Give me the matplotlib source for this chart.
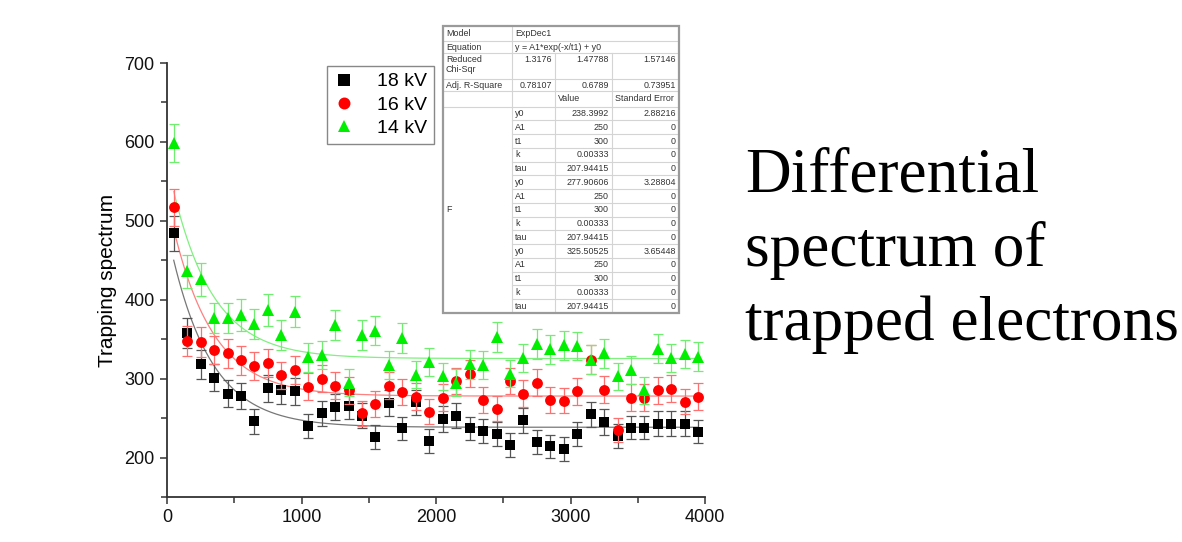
import numpy as np
import matplotlib.pyplot as plt
from matplotlib.ticker import MultipleLocator

plt.rcParams['font.family'] = ['Liberation Sans', 'DejaVu Sans']

# ---- measured trapping spectra (counts per 100-unit bin) ----
bins = [50, 150, 250, 350, 450, 550, 650, 750, 850, 950,
        1050, 1150, 1250, 1350, 1450, 1550, 1650, 1750, 1850, 1950,
        2050, 2150, 2250, 2350, 2450, 2550, 2650, 2750, 2850, 2950,
        3050, 3150, 3250, 3350, 3450, 3550, 3650, 3750, 3850, 3950]

kv18 = [484, 358, 318, 301, 281, 278, 246, 288, 285, 284,
        240, 256, 264, 265, 253, 226, 269, 237, 270, 221,
        249, 253, 237, 234, 230, 216, 247, 220, 214, 211,
        230, 255, 245, 227, 238, 238, 243, 243, 243, 233]
kv16 = [517, 348, 347, 336, 332, 323, 316, 320, 304, 311,
        290, 300, 291, 285, 256, 268, 291, 283, 277, 258,
        276, 297, 306, 273, 262, 297, 281, 295, 273, 272,
        284, 324, 286, 235, 276, 276, 285, 287, 271, 277]
kv14 = [599, 436, 426, 377, 377, 381, 369, 387, 355, 385,
        327, 330, 368, 295, 355, 361, 317, 351, 305, 321,
        303, 295, 318, 317, 353, 306, 326, 344, 337, 342,
        341, 324, 332, 303, 311, 285, 338, 326, 331, 328]

err18 = [22, 19, 18, 17, 17, 17, 16, 17, 17, 17,
         15, 16, 16, 16, 16, 15, 16, 15, 16, 15,
         16, 16, 15, 15, 15, 15, 16, 15, 15, 15,
         15, 16, 16, 15, 15, 15, 16, 16, 16, 15]
err16 = [23, 19, 19, 18, 18, 18, 18, 18, 17, 18,
         17, 17, 17, 17, 16, 16, 17, 17, 17, 16,
         17, 17, 17, 17, 16, 17, 17, 17, 17, 16,
         17, 18, 17, 15, 17, 17, 17, 17, 16, 17]
err14 = [24, 21, 21, 19, 19, 20, 19, 20, 19, 20,
         18, 18, 19, 17, 19, 19, 18, 19, 17, 18,
         17, 17, 18, 18, 19, 17, 18, 19, 18, 18,
         18, 18, 18, 17, 18, 17, 18, 18, 18, 18]

labels = ['18 kV', '16 kV', '14 kV']
colors = ['#000000', '#ff0000', '#00ee00']
err_colors = ['#555555', '#ff7070', '#70ee70']
fit_colors = ['#777777', '#ff8080', '#80f080']
markers = ['s', 'o', '^']
msizes = [7.2, 7.8, 8.4]

# ExpDec1 fit parameters: y = A1*exp(-x/t1) + y0
fit_y0 = [238.3992, 277.90606, 325.50525]
fit_A1 = [250, 250, 250]
fit_t1 = [300, 300, 300]

# ---- figure ----
W, H = 1182, 542
fig = plt.figure(figsize=(W / 100, H / 100), dpi=100)


def fx(px):
    return px / W


def fy(py):
    return (H - py) / H


ax = fig.add_axes([fx(167), fy(497), fx(705) - fx(167), fy(63) - fy(497)])

series = [kv18, kv16, kv14]
errs = [err18, err16, err14]
x = np.array(bins, dtype=float)
xfit = np.linspace(bins[0], bins[-1], 400)

for i in range(3):
    yfit = fit_A1[i] * np.exp(-xfit / fit_t1[i]) + fit_y0[i]
    ax.plot(xfit, yfit, color=fit_colors[i], lw=0.9, zorder=2)

handles = []
for i in range(3):
    ax.errorbar(x, series[i], yerr=errs[i], fmt='none', ecolor=err_colors[i],
                elinewidth=0.9, capsize=3.5, capthick=0.9, zorder=3 + i)
    h, = ax.plot(x, series[i], linestyle='none', marker=markers[i],
                 markersize=msizes[i], color=colors[i], markeredgewidth=0,
                 zorder=3.5 + i)
    handles.append(h)

ax.set_xlim(0, 4000)
ax.set_ylim(150, 700)
ax.xaxis.set_major_locator(MultipleLocator(1000))
ax.xaxis.set_minor_locator(MultipleLocator(500))
ax.yaxis.set_minor_locator(MultipleLocator(50))
ax.set_yticks([200, 300, 400, 500, 600, 700])

for s in ['top', 'right']:
    ax.spines[s].set_visible(False)
for s in ['left', 'bottom']:
    ax.spines[s].set_linewidth(1.3)
    ax.spines[s].set_color('#333333')
ax.tick_params(which='both', direction='out', width=1.1, color='#333333')
ax.tick_params(which='major', length=5, labelsize=13, labelcolor='#111111', pad=4)
ax.tick_params(which='minor', length=4)
ax.set_ylabel('Trapping spectrum', fontsize=15, labelpad=5)

leg = fig.legend(handles, labels, loc='upper left',
                 bbox_to_anchor=(fx(327), fy(66)), borderaxespad=0,
                 fontsize=14, frameon=True, fancybox=False, edgecolor='#888888',
                 framealpha=1, handlelength=1.0, handletextpad=1.2,
                 labelspacing=0.3, borderpad=0.35, markerscale=1.1)
leg.get_frame().set_linewidth(1.0)

# ---- fit report table ----
tab_cols = [443, 512, 555, 612, 679]
tab_top, tab_bottom = 26, 313
head_rows = [26, 40.7, 53.3, 79.3, 90.7, 106.7]
n_par = 15
par_h = (tab_bottom - head_rows[-1]) / n_par

model_name = 'ExpDec1'
equation = 'y = A1*exp(-x/t1) + y0'
chi_sqr = ['1.3176', '1.47788', '1.57146']
adj_r2 = ['0.78107', '0.6789', '0.73951']
par_names = ['y0', 'A1', 't1', 'k', 'tau'] * 3
par_values = ['238.3992', '250', '300', '0.00333', '207.94415',
              '277.90606', '250', '300', '0.00333', '207.94415',
              '325.50525', '250', '300', '0.00333', '207.94415']
par_errors = ['2.88216', '0', '0', '0', '0',
              '3.28804', '0', '0', '0', '0',
              '3.65448', '0', '0', '0', '0']

tax = fig.add_axes([0, 0, 1, 1], zorder=10)
tax.set_xlim(0, W)
tax.set_ylim(H, 0)
tax.axis('off')
tax.patch.set_alpha(0)

tax.add_patch(plt.Rectangle((tab_cols[0], tab_top), tab_cols[-1] - tab_cols[0],
                            tab_bottom - tab_top, facecolor='white',
                            edgecolor='none', zorder=1))
grid_kw = dict(color='#d4d4d4', lw=0.8, zorder=2)


def hline(x0, x1, y):
    tax.plot([x0, x1], [y, y], **grid_kw)


def vline(x, y0, y1):
    tax.plot([x, x], [y0, y1], **grid_kw)


for y in head_rows[1:]:
    hline(tab_cols[0], tab_cols[-1], y)
for k in range(1, n_par):
    hline(tab_cols[1], tab_cols[-1], head_rows[-1] + k * par_h)
vline(tab_cols[1], tab_top, tab_bottom)
vline(tab_cols[2], head_rows[2], tab_bottom)
vline(tab_cols[3], head_rows[2], tab_bottom)
tax.add_patch(plt.Rectangle((tab_cols[0], tab_top), tab_cols[-1] - tab_cols[0],
                            tab_bottom - tab_top, facecolor='none',
                            edgecolor='#9a9a9a', lw=1.6, zorder=3))

tfs = 6.4
tcol = '#333333'
pad = 3


def cell_text(col, yc, s, align='left'):
    if align == 'left':
        tax.text(tab_cols[col] + pad, yc, s, fontsize=tfs, color=tcol,
                 ha='left', va='center', zorder=4)
    else:
        tax.text(tab_cols[col + 1] - pad, yc, s, fontsize=tfs, color=tcol,
                 ha='right', va='center', zorder=4)


def mid(r):
    return (head_rows[r] + head_rows[r + 1]) / 2


cell_text(0, mid(0), 'Model')
cell_text(1, mid(0), model_name)
cell_text(0, mid(1), 'Equation')
cell_text(1, mid(1), equation)
cell_text(0, head_rows[2] + 6.5, 'Reduced')
cell_text(0, head_rows[2] + 16.5, 'Chi-Sqr')
for j in range(3):
    cell_text(1 + j, head_rows[2] + 6.5, chi_sqr[j], 'right')
cell_text(0, mid(3), 'Adj. R-Square')
for j in range(3):
    cell_text(1 + j, mid(3), adj_r2[j], 'right')
cell_text(2, mid(4), 'Value')
cell_text(3, mid(4), 'Standard Error')
for k in range(n_par):
    yc = head_rows[-1] + (k + 0.5) * par_h
    cell_text(1, yc, par_names[k])
    cell_text(2, yc, par_values[k], 'right')
    cell_text(3, yc, par_errors[k], 'right')
cell_text(0, (head_rows[-1] + tab_bottom) / 2, 'F')

# ---- caption ----
caption = ['Differential', 'spectrum of', 'trapped electrons']
baselines = [192, 266, 340]
for line, yb in zip(caption, baselines):
    fig.text(fx(745), fy(yb), line, fontsize=45.5, family='Liberation Serif',
             ha='left', va='baseline', color='black')

fig.savefig('out.png', dpi=100)
